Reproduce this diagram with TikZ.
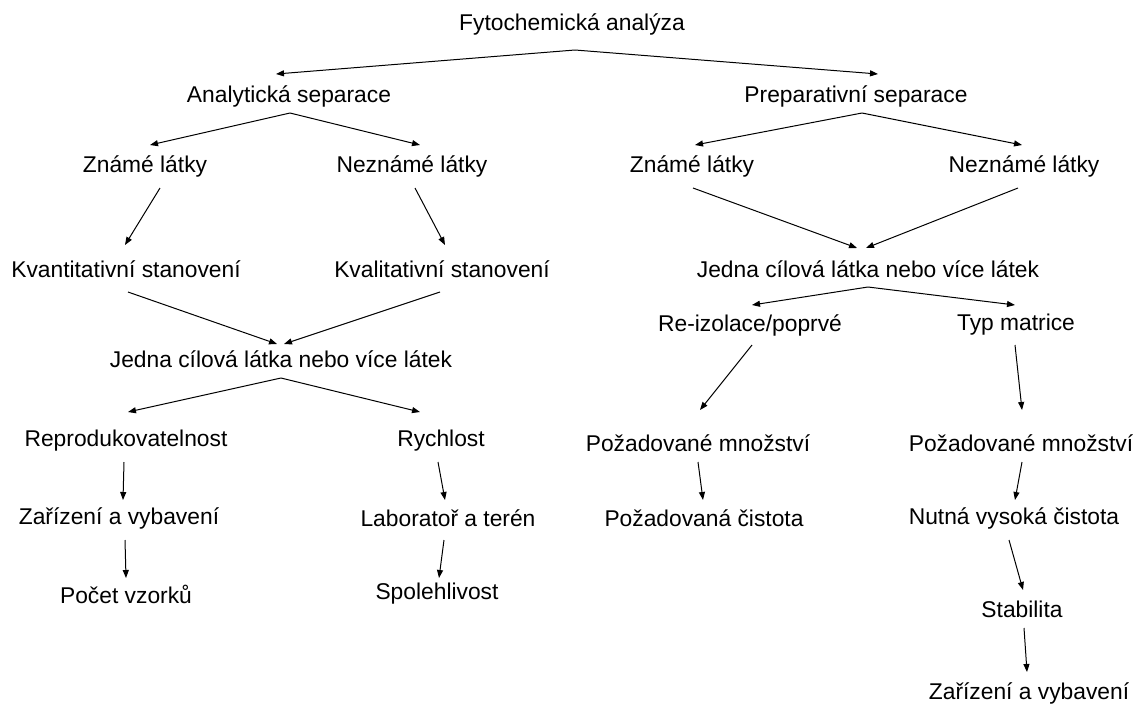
\documentclass[tikz,border=0pt]{standalone}
\usepackage{fontspec}
\setmainfont{Liberation Sans}
\usetikzlibrary{arrows.meta}
\tikzset{
  lbl/.style={font=\fontsize{22.8}{27}\selectfont, inner sep=0pt, anchor=center},
  arr/.style={draw=black, line width=1pt, -{Triangle[length=8pt,width=6pt]}}
}
\newcommand{\conn}[6]{\draw[arr] ([shift={(#2,#3)}]#1.center) -- ([shift={(#5,#6)}]#4.center);}
\begin{document}
\begin{tikzpicture}[x=1pt,y=-1pt]
\fill[white] (0,0) rectangle (1137,713);
\useasboundingbox (0,0) rectangle (1137,713);
\node[lbl] (f) at (572,24) {Fytochemická analýza};
\node[lbl] (as) at (289,96) {Analytická separace};
\node[lbl] (ps) at (856,96) {Preparativní separace};
\node[lbl] (zl) at (145,166) {Známé látky};
\node[lbl] (nl) at (412,166) {Neznámé látky};
\node[lbl] (zr) at (692,166) {Známé látky};
\node[lbl] (nr) at (1024,166) {Neznámé látky};
\node[lbl] (kvan) at (126,269) {Kvantitativní stanovení};
\node[lbl] (kval) at (442,269) {Kvalitativní stanovení};
\node[lbl] (jr) at (868,269) {Jedna cílová látka nebo více látek};
\node[lbl] (jl) at (281,359) {Jedna cílová látka nebo více látek};
\node[lbl] (ri) at (750,325) {Re-izolace/poprvé};
\node[lbl] (tm) at (1016,325) {Typ matrice};
\node[lbl] (rep) at (126,441) {Reprodukovatelnost};
\node[lbl] (ry) at (441,441) {Rychlost};
\node[lbl] (pm1) at (698,443) {Požadované množství};
\node[lbl] (pm2) at (1021,443) {Požadované množství};
\node[lbl] (z1) at (119,518) {Zařízení a vybavení};
\node[lbl] (lab) at (448,518) {Laboratoř a terén};
\node[lbl] (pc) at (704,518) {Požadovaná čistota};
\node[lbl] (nv) at (1014,518) {Nutná vysoká čistota};
\node[lbl] (poc) at (126,594) {Počet vzorků};
\node[lbl] (sp) at (437,594) {Spolehlivost};
\node[lbl] (st) at (1022,609) {Stabilita};
\node[lbl] (z2) at (1029,693) {Zařízení a vybavení};
\conn{f}{3}{26}{as}{-13}{-22}
\conn{f}{3}{26}{ps}{22}{-22}
\conn{as}{1}{17}{zl}{5}{-21}
\conn{as}{1}{17}{nl}{8}{-21}
\conn{ps}{6}{17}{zr}{3}{-21}
\conn{ps}{6}{17}{nr}{-2}{-21}
\conn{zl}{15}{22}{kvan}{-1}{-24}
\conn{nl}{3}{22}{kval}{3}{-24}
\conn{zr}{1}{22}{jr}{-11}{-21}
\conn{nr}{-6}{22}{jr}{-2}{-21}
\conn{kvan}{2}{23}{jl}{-4}{-15}
\conn{kval}{-2}{23}{jl}{3}{-15}
\conn{jl}{0}{19}{rep}{2}{-29}
\conn{jl}{0}{19}{ry}{-21}{-29}
\conn{jr}{0}{18}{ri}{2}{-20}
\conn{jr}{0}{18}{tm}{-1}{-20}
\conn{ri}{2}{20}{pm1}{2}{-33}
\conn{tm}{-1}{20}{pm2}{1}{-33}
\conn{rep}{-2}{21}{z1}{4}{-18}
\conn{ry}{-3}{21}{lab}{-3}{-18}
\conn{pm1}{0}{19}{pc}{-1}{-18}
\conn{pm2}{1}{19}{nv}{1}{-18}
\conn{z1}{6}{22}{poc}{0}{-16}
\conn{lab}{-4}{22}{sp}{2}{-16}
\conn{nv}{-5}{22}{st}{1}{-19}
\conn{st}{2}{19}{z2}{-2}{-21}
\end{tikzpicture}
\end{document}
